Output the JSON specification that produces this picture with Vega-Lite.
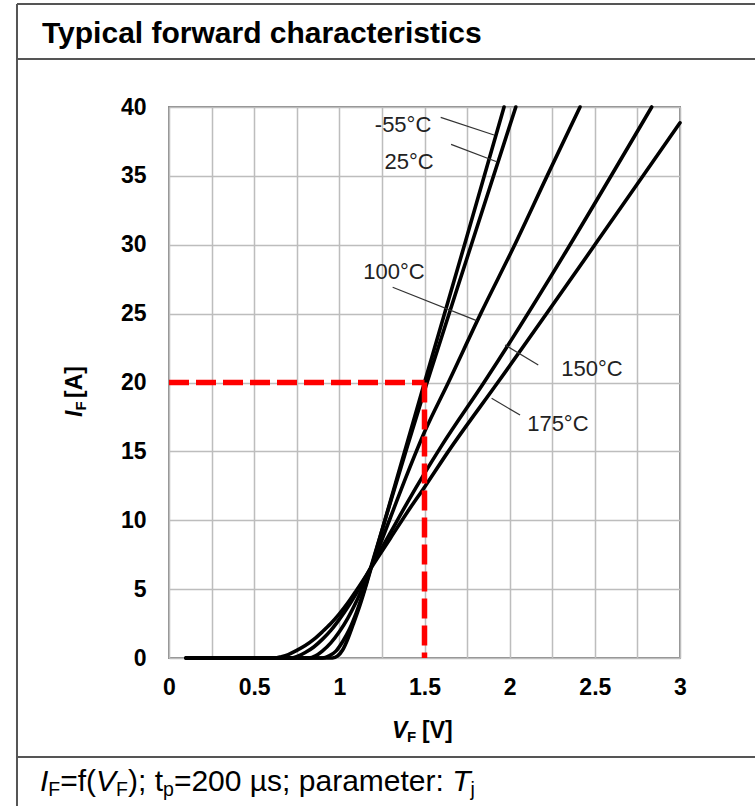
{
  "$schema": "https://vega.github.io/schema/vega-lite/v6.json",
  "width": 511,
  "height": 551,
  "autosize": {"type": "none"},
  "padding": {"left": 169, "top": 107, "right": 75, "bottom": 148},
  "background": "white",
  "config": {"view": {"stroke": "#8c8c8c", "strokeWidth": 2}, "text": {"font": "Liberation Sans"}},
  "datasets": {
    "curves": [
      {"T": "-55°C", "V": 0.1, "I": 0}, {"T": "-55°C", "V": 0.96, "I": 0}, {"T": "-55°C", "V": 0.99, "I": 0.15},
      {"T": "-55°C", "V": 1.02, "I": 0.6}, {"T": "-55°C", "V": 1.05, "I": 1.4}, {"T": "-55°C", "V": 1.08, "I": 2.4},
      {"T": "-55°C", "V": 1.12, "I": 3.8}, {"T": "-55°C", "V": 1.16, "I": 5.4}, {"T": "-55°C", "V": 1.2, "I": 7.1},
      {"T": "-55°C", "V": 1.3, "I": 11.4}, {"T": "-55°C", "V": 1.4, "I": 15.7}, {"T": "-55°C", "V": 1.5, "I": 20},
      {"T": "-55°C", "V": 1.735, "I": 30}, {"T": "-55°C", "V": 1.967, "I": 40},
      {"T": "25°C", "V": 0.1, "I": 0}, {"T": "25°C", "V": 0.9, "I": 0}, {"T": "25°C", "V": 0.94, "I": 0.15},
      {"T": "25°C", "V": 0.98, "I": 0.5}, {"T": "25°C", "V": 1.02, "I": 1.2}, {"T": "25°C", "V": 1.06, "I": 2.1},
      {"T": "25°C", "V": 1.1, "I": 3.3}, {"T": "25°C", "V": 1.15, "I": 5.1}, {"T": "25°C", "V": 1.2, "I": 7.2},
      {"T": "25°C", "V": 1.3, "I": 11.3}, {"T": "25°C", "V": 1.4, "I": 15.4}, {"T": "25°C", "V": 1.515, "I": 20},
      {"T": "25°C", "V": 1.775, "I": 30}, {"T": "25°C", "V": 2.036, "I": 40},
      {"T": "100°C", "V": 0.1, "I": 0}, {"T": "100°C", "V": 0.82, "I": 0}, {"T": "100°C", "V": 0.86, "I": 0.15},
      {"T": "100°C", "V": 0.9, "I": 0.5}, {"T": "100°C", "V": 0.95, "I": 1.1}, {"T": "100°C", "V": 1.0, "I": 1.9},
      {"T": "100°C", "V": 1.05, "I": 2.9}, {"T": "100°C", "V": 1.1, "I": 4.1}, {"T": "100°C", "V": 1.15, "I": 5.5},
      {"T": "100°C", "V": 1.2, "I": 7.0}, {"T": "100°C", "V": 1.3, "I": 10.2}, {"T": "100°C", "V": 1.4, "I": 13.4},
      {"T": "100°C", "V": 1.5, "I": 16.4}, {"T": "100°C", "V": 1.64, "I": 20}, {"T": "100°C", "V": 1.83, "I": 25},
      {"T": "100°C", "V": 2.03, "I": 30}, {"T": "100°C", "V": 2.22, "I": 35}, {"T": "100°C", "V": 2.413, "I": 40},
      {"T": "150°C", "V": 0.1, "I": 0}, {"T": "150°C", "V": 0.72, "I": 0}, {"T": "150°C", "V": 0.76, "I": 0.15},
      {"T": "150°C", "V": 0.8, "I": 0.4}, {"T": "150°C", "V": 0.85, "I": 0.8}, {"T": "150°C", "V": 0.9, "I": 1.35},
      {"T": "150°C", "V": 0.95, "I": 2.0}, {"T": "150°C", "V": 1.0, "I": 2.8}, {"T": "150°C", "V": 1.05, "I": 3.7},
      {"T": "150°C", "V": 1.1, "I": 4.7}, {"T": "150°C", "V": 1.2, "I": 6.9}, {"T": "150°C", "V": 1.3, "I": 9.1},
      {"T": "150°C", "V": 1.4, "I": 11.3}, {"T": "150°C", "V": 1.5, "I": 13.4}, {"T": "150°C", "V": 1.6, "I": 15.4},
      {"T": "150°C", "V": 1.849, "I": 20}, {"T": "150°C", "V": 2.834, "I": 40},
      {"T": "175°C", "V": 0.1, "I": 0}, {"T": "175°C", "V": 0.62, "I": 0}, {"T": "175°C", "V": 0.66, "I": 0.1},
      {"T": "175°C", "V": 0.7, "I": 0.25}, {"T": "175°C", "V": 0.75, "I": 0.55}, {"T": "175°C", "V": 0.8, "I": 0.9},
      {"T": "175°C", "V": 0.85, "I": 1.35}, {"T": "175°C", "V": 0.9, "I": 1.9}, {"T": "175°C", "V": 0.95, "I": 2.5},
      {"T": "175°C", "V": 1.0, "I": 3.2}, {"T": "175°C", "V": 1.05, "I": 4.0}, {"T": "175°C", "V": 1.1, "I": 4.9},
      {"T": "175°C", "V": 1.2, "I": 6.8}, {"T": "175°C", "V": 1.3, "I": 8.7}, {"T": "175°C", "V": 1.4, "I": 10.6},
      {"T": "175°C", "V": 1.5, "I": 12.4}, {"T": "175°C", "V": 1.64, "I": 15}, {"T": "175°C", "V": 1.93, "I": 20},
      {"T": "175°C", "V": 3.0, "I": 38.85}
    ],
    "guides": [
      {"V": 0, "I": 20, "V2": 1.5, "I2": 20},
      {"V": 1.5, "I": 20, "V2": 1.5, "I2": 0}
    ],
    "labels": [
      {"text": "-55°C", "V": 1.374, "I": 38.69},
      {"text": "25°C", "V": 1.409, "I": 36.0},
      {"text": "100°C", "V": 1.321, "I": 28.0},
      {"text": "150°C", "V": 2.483, "I": 20.98},
      {"text": "175°C", "V": 2.283, "I": 17.0}
    ],
    "pointers": [
      {"V": 1.595, "I": 39.25, "V2": 1.908, "I2": 37.97},
      {"V": 1.656, "I": 37.29, "V2": 1.924, "I2": 36.03},
      {"V": 1.313, "I": 26.91, "V2": 1.806, "I2": 24.49},
      {"V": 2.168, "I": 21.27, "V2": 1.973, "I2": 22.72},
      {"V": 2.061, "I": 17.64, "V2": 1.894, "I2": 18.85}
    ]
  },
  "layer": [
    {
      "data": {"name": "curves"},
      "mark": {"type": "line", "color": "#000000", "strokeWidth": 3.6, "interpolate": "monotone", "strokeCap": "round"},
      "encoding": {
        "x": {"field": "V", "type": "quantitative", "scale": {"domain": [0, 3], "nice": false, "zero": false},
          "axis": {"values": [0, 0.25, 0.5, 0.75, 1, 1.25, 1.5, 1.75, 2, 2.25, 2.5, 2.75, 3],
            "labelExpr": "datum.value % 0.5 == 0 ? format(datum.value, '~g') : ''",
            "grid": true, "gridColor": "#bdbdbd", "gridWidth": 1.5, "ticks": false, "domain": false,
            "labelFont": "Liberation Sans", "labelFontWeight": "bold", "labelFontSize": 23, "labelColor": "#000000",
            "labelPadding": 18, "labelFlush": false, "labelOverlap": false, "title": null}},
        "y": {"field": "I", "type": "quantitative", "scale": {"domain": [0, 40], "nice": false},
          "axis": {"values": [0, 5, 10, 15, 20, 25, 30, 35, 40],
            "grid": true, "gridColor": "#bdbdbd", "gridWidth": 1.5, "ticks": false, "domain": false,
            "labelFont": "Liberation Sans", "labelFontWeight": "bold", "labelFontSize": 23, "labelColor": "#000000",
            "labelPadding": 23, "labelFlush": false, "labelOverlap": false, "title": null}},
        "detail": {"field": "T", "type": "nominal"}
      }
    },
    {
      "data": {"name": "guides"},
      "mark": {"type": "rule", "color": "#ff0000", "strokeWidth": 5.5, "strokeDash": [20, 7]},
      "encoding": {
        "x": {"field": "V", "type": "quantitative"},
        "y": {"field": "I", "type": "quantitative"},
        "x2": {"field": "V2"},
        "y2": {"field": "I2"}
      }
    },
    {
      "data": {"name": "pointers"},
      "mark": {"type": "rule", "color": "#333333", "strokeWidth": 1.2},
      "encoding": {
        "x": {"field": "V", "type": "quantitative"},
        "y": {"field": "I", "type": "quantitative"},
        "x2": {"field": "V2"},
        "y2": {"field": "I2"}
      }
    },
    {
      "data": {"name": "labels"},
      "mark": {"type": "text", "font": "Liberation Sans", "fontSize": 22, "color": "#222222", "align": "center", "baseline": "middle"},
      "encoding": {
        "x": {"field": "V", "type": "quantitative"},
        "y": {"field": "I", "type": "quantitative"},
        "text": {"field": "text"}
      }
    },
    {
      "data": {"values": [{}]},
      "layer": [
        {"mark": {"type": "rule", "color": "#555555", "strokeWidth": 2}, "encoding": {"x": {"datum": -0.8924, "type": "quantitative"}, "y": {"datum": 47.48, "type": "quantitative"}, "y2": {"datum": -11.5}}},
        {"mark": {"type": "rule", "color": "#555555", "strokeWidth": 2}, "encoding": {"x": {"datum": -0.8924, "type": "quantitative"}, "x2": {"datum": 3.5}, "y": {"datum": 47.48, "type": "quantitative"}}},
        {"mark": {"type": "rule", "color": "#555555", "strokeWidth": 2}, "encoding": {"x": {"datum": -0.8924, "type": "quantitative"}, "x2": {"datum": 3.5}, "y": {"datum": 43.48, "type": "quantitative"}}},
        {"mark": {"type": "rule", "color": "#555555", "strokeWidth": 2}, "encoding": {"x": {"datum": -0.8924, "type": "quantitative"}, "x2": {"datum": 3.5}, "y": {"datum": -7.187, "type": "quantitative"}}},
        {"mark": {"type": "text", "text": "Typical forward characteristics", "font": "Liberation Sans", "fontWeight": "bold", "fontSize": 30, "color": "#000000", "align": "left", "baseline": "alphabetic"},
          "encoding": {"x": {"datum": -0.7456, "type": "quantitative"}, "y": {"datum": 44.65, "type": "quantitative"}}},
        {"mark": {"type": "text", "text": "V", "font": "Liberation Sans", "fontWeight": "bold", "fontStyle": "italic", "fontSize": 23, "color": "#000000", "align": "left", "baseline": "alphabetic"},
          "encoding": {"x": {"datum": 1.309, "type": "quantitative"}, "y": {"datum": -5.81, "type": "quantitative"}}},
        {"mark": {"type": "text", "text": "F", "font": "Liberation Sans", "fontWeight": "bold", "fontSize": 15, "color": "#000000", "align": "left", "baseline": "alphabetic", "dx": 15, "dy": 4},
          "encoding": {"x": {"datum": 1.309, "type": "quantitative"}, "y": {"datum": -5.81, "type": "quantitative"}}},
        {"mark": {"type": "text", "text": "[V]", "font": "Liberation Sans", "fontWeight": "bold", "fontSize": 23, "color": "#000000", "align": "left", "baseline": "alphabetic", "dx": 30},
          "encoding": {"x": {"datum": 1.309, "type": "quantitative"}, "y": {"datum": -5.81, "type": "quantitative"}}},
        {"mark": {"type": "text", "text": "I", "angle": 270, "font": "Liberation Sans", "fontWeight": "bold", "fontStyle": "italic", "fontSize": 23, "color": "#000000", "align": "left", "baseline": "alphabetic"},
          "encoding": {"x": {"datum": -0.511, "type": "quantitative"}, "y": {"datum": 17.5, "type": "quantitative"}}},
        {"mark": {"type": "text", "text": "F", "angle": 270, "font": "Liberation Sans", "fontWeight": "bold", "fontSize": 15, "color": "#000000", "align": "left", "baseline": "alphabetic", "dx": 6.5, "dy": 4},
          "encoding": {"x": {"datum": -0.511, "type": "quantitative"}, "y": {"datum": 17.5, "type": "quantitative"}}},
        {"mark": {"type": "text", "text": "[A]", "angle": 270, "font": "Liberation Sans", "fontWeight": "bold", "fontSize": 23, "color": "#000000", "align": "left", "baseline": "alphabetic", "dx": 19},
          "encoding": {"x": {"datum": -0.511, "type": "quantitative"}, "y": {"datum": 17.5, "type": "quantitative"}}},
        {"mark": {"type": "text", "text": "I", "font": "Liberation Sans", "fontStyle": "italic", "fontSize": 30, "color": "#000000", "align": "left", "baseline": "alphabetic"},
          "encoding": {"x": {"datum": -0.7573, "type": "quantitative"}, "y": {"datum": -9.655, "type": "quantitative"}}},
        {"mark": {"type": "text", "text": "F", "font": "Liberation Sans", "fontSize": 19.5, "color": "#000000", "align": "left", "baseline": "alphabetic", "dx": 8.3, "dy": 5},
          "encoding": {"x": {"datum": -0.7573, "type": "quantitative"}, "y": {"datum": -9.655, "type": "quantitative"}}},
        {"mark": {"type": "text", "text": "=f(", "font": "Liberation Sans", "fontSize": 30, "color": "#000000", "align": "left", "baseline": "alphabetic", "dx": 20.2},
          "encoding": {"x": {"datum": -0.7573, "type": "quantitative"}, "y": {"datum": -9.655, "type": "quantitative"}}},
        {"mark": {"type": "text", "text": "V", "font": "Liberation Sans", "fontStyle": "italic", "fontSize": 30, "color": "#000000", "align": "left", "baseline": "alphabetic", "dx": 56.1},
          "encoding": {"x": {"datum": -0.7573, "type": "quantitative"}, "y": {"datum": -9.655, "type": "quantitative"}}},
        {"mark": {"type": "text", "text": "F", "font": "Liberation Sans", "fontSize": 19.5, "color": "#000000", "align": "left", "baseline": "alphabetic", "dx": 76.1, "dy": 5},
          "encoding": {"x": {"datum": -0.7573, "type": "quantitative"}, "y": {"datum": -9.655, "type": "quantitative"}}},
        {"mark": {"type": "text", "text": "); t", "font": "Liberation Sans", "fontSize": 30, "color": "#000000", "align": "left", "baseline": "alphabetic", "dx": 88.0},
          "encoding": {"x": {"datum": -0.7573, "type": "quantitative"}, "y": {"datum": -9.655, "type": "quantitative"}}},
        {"mark": {"type": "text", "text": "p", "font": "Liberation Sans", "fontSize": 19.5, "color": "#000000", "align": "left", "baseline": "alphabetic", "dx": 123.0, "dy": 5},
          "encoding": {"x": {"datum": -0.7573, "type": "quantitative"}, "y": {"datum": -9.655, "type": "quantitative"}}},
        {"mark": {"type": "text", "text": "=200 µs; parameter:", "font": "Liberation Sans", "fontSize": 30, "color": "#000000", "align": "left", "baseline": "alphabetic", "dx": 133.9},
          "encoding": {"x": {"datum": -0.7573, "type": "quantitative"}, "y": {"datum": -9.655, "type": "quantitative"}}},
        {"mark": {"type": "text", "text": "T", "font": "Liberation Sans", "fontStyle": "italic", "fontSize": 30, "color": "#000000", "align": "left", "baseline": "alphabetic", "dx": 412.2},
          "encoding": {"x": {"datum": -0.7573, "type": "quantitative"}, "y": {"datum": -9.655, "type": "quantitative"}}},
        {"mark": {"type": "text", "text": "j", "font": "Liberation Sans", "fontSize": 19.5, "color": "#000000", "align": "left", "baseline": "alphabetic", "dx": 430.5, "dy": 5},
          "encoding": {"x": {"datum": -0.7573, "type": "quantitative"}, "y": {"datum": -9.655, "type": "quantitative"}}}
      ]
    }
  ]
}
